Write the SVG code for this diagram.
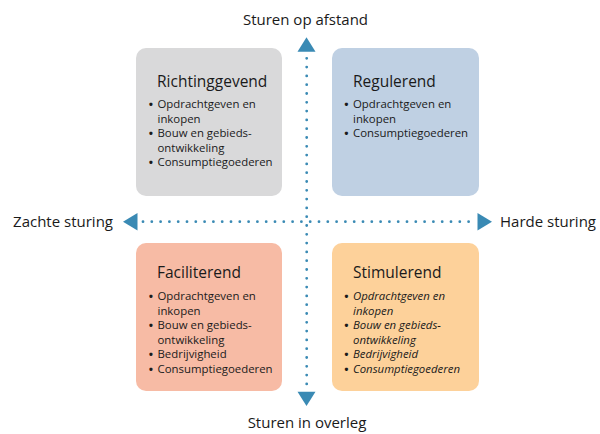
<svg xmlns="http://www.w3.org/2000/svg" width="600" height="434" viewBox="0 0 600 434">
<style>
text{font-family:"Open Sans","Noto Sans","Liberation Sans",sans-serif;fill:#1a1a1a}
.ax{font-size:15px}
.ttl{font-size:15.5px}
.it{font-size:11.4px}
.b{font-size:11.4px;text-anchor:middle;font-weight:bold}
.i{font-style:italic}
.dot{stroke:#3a8ab4;stroke-width:2.8;stroke-linecap:round;stroke-dasharray:0 8.8;fill:none}
.head{fill:#3a8ab4}
</style>
<rect width="600" height="434" fill="#fff"/>
<g id="node-richtinggevend">
<rect x="136" y="48" width="146" height="148" rx="10" fill="#d9d9da"/>
<text class="ttl" x="157" y="86.7">Richtinggevend</text>
<text class="b" x="151" y="108.3">•</text><text class="it" x="157.5" y="108.3">Opdrachtgeven en</text>
<text class="it" x="157.5" y="122.8">inkopen</text>
<text class="b" x="151" y="137.3">•</text><text class="it" x="157.5" y="137.3">Bouw en gebieds-</text>
<text class="it" x="157.5" y="151.8">ontwikkeling</text>
<text class="b" x="151" y="166.3">•</text><text class="it" x="157.5" y="166.3">Consumptiegoederen</text>
</g>
<g id="node-regulerend">
<rect x="332" y="48" width="147" height="148" rx="10" fill="#bfd0e3"/>
<text class="ttl" x="353" y="86.7">Regulerend</text>
<text class="b" x="346.5" y="108.3">•</text><text class="it" x="353" y="108.3">Opdrachtgeven en</text>
<text class="it" x="353" y="122.8">inkopen</text>
<text class="b" x="346.5" y="137.3">•</text><text class="it" x="353" y="137.3">Consumptiegoederen</text>
</g>
<g id="node-faciliterend">
<rect x="136" y="243" width="146" height="148" rx="10" fill="#f7bba5"/>
<text class="ttl" x="157" y="278.3">Faciliterend</text>
<text class="b" x="151" y="300">•</text><text class="it" x="157.5" y="300">Opdrachtgeven en</text>
<text class="it" x="157.5" y="314.5">inkopen</text>
<text class="b" x="151" y="329">•</text><text class="it" x="157.5" y="329">Bouw en gebieds-</text>
<text class="it" x="157.5" y="343.5">ontwikkeling</text>
<text class="b" x="151" y="358">•</text><text class="it" x="157.5" y="358">Bedrijvigheid</text>
<text class="b" x="151" y="372.5">•</text><text class="it" x="157.5" y="372.5">Consumptiegoederen</text>
</g>
<g id="node-stimulerend">
<rect x="332" y="243" width="147" height="148" rx="10" fill="#fdd19a"/>
<text class="ttl" x="353" y="278.3">Stimulerend</text>
<text class="b" x="346.5" y="300">•</text><text class="it i" x="353" y="300">Opdrachtgeven en</text>
<text class="it i" x="353" y="314.5">inkopen</text>
<text class="b" x="346.5" y="329">•</text><text class="it i" x="353" y="329">Bouw en gebieds-</text>
<text class="it i" x="353" y="343.5">ontwikkeling</text>
<text class="b" x="346.5" y="358">•</text><text class="it i" x="353" y="358">Bedrijvigheid</text>
<text class="b" x="346.5" y="372.5">•</text><text class="it i" x="353" y="372.5">Consumptiegoederen</text>
</g>
<g id="connectors">
<line class="dot" x1="306.7" y1="58.3" x2="306.7" y2="385"/>
<line class="dot" x1="143" y1="221.7" x2="471" y2="221.7"/>
<polygon class="head" points="306.5,37.3 297.5,51.7 315.5,51.7"/>
<polygon class="head" points="306.5,406 297.5,391.7 315.5,391.7"/>
<polygon class="head" points="123,221.7 137.5,213 137.5,230.4"/>
<polygon class="head" points="492,221.7 477.5,213 477.5,230.4"/>
</g>
<g id="labels">
<text class="ax" x="305.5" y="25" text-anchor="middle">Sturen op afstand</text>
<text class="ax" x="307" y="427.7" text-anchor="middle">Sturen in overleg</text>
<text class="ax" x="113" y="227" text-anchor="end">Zachte sturing</text>
<text class="ax" x="500" y="227">Harde sturing</text>
</g>
</svg>
